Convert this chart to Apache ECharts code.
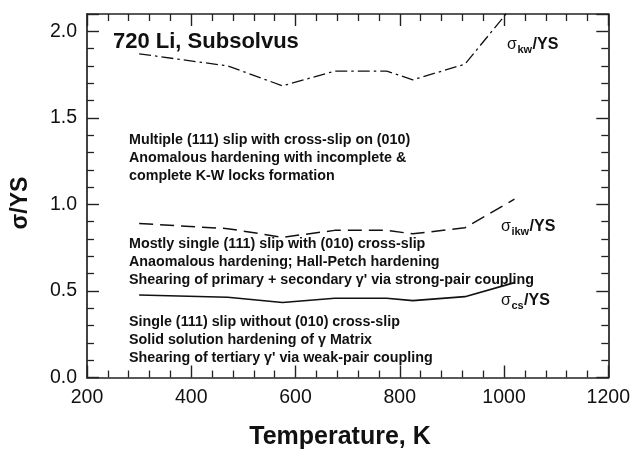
<!DOCTYPE html>
<html><head><meta charset="utf-8">
<script src="https://cdn.jsdelivr.net/npm/echarts@6/dist/echarts.min.js"></script>
<style>html,body{margin:0;padding:0;background:#fff}#chart{width:633px;height:452px}</style>
</head><body><div id="chart"></div>
<script>
// Normalised strength ratios of 720 Li (subsolvus) versus temperature
const temperatures = [300, 470, 575, 675, 775, 825, 925, 1020];
const sigmaKW  = [1.87, 1.80, 1.685, 1.77, 1.77, 1.72, 1.81, 2.16];
const sigmaIKW = [0.89, 0.86, 0.81, 0.85, 0.85, 0.83, 0.865, 1.03];
const sigmaCS  = [0.477, 0.464, 0.433, 0.458, 0.458, 0.444, 0.467, 0.548];
const xTickLabels = [200, 400, 600, 800, 1000, 1200];
const yTickLabels = [0.0, 0.5, 1.0, 1.5, 2.0];

const blockKW = [
  'Multiple (111) slip with cross-slip on (010)',
  'Anomalous hardening with incomplete &',
  'complete K-W locks formation'
];
const blockIKW = [
  'Mostly single (111) slip with (010) cross-slip',
  'Anaomalous hardening; Hall-Petch hardening',
  "Shearing of primary + secondary \u03b3' via strong-pair coupling"
];
const blockCS = [
  'Single (111) slip without (010) cross-slip',
  'Solid solution hardening of \u03b3 Matrix',
  "Shearing of tertiary \u03b3' via weak-pair coupling"
];

const FONT = '"Liberation Sans", Arial, sans-serif';
const INK = '#111';
const AXIS = '#222';

const chart = echarts.init(document.getElementById('chart'), null, {renderer: 'canvas'});

const pairs = arr => temperatures.map((t, i) => [t, arr[i]]);

function frameAxis(extra) {
  return Object.assign({
    axisLine: {show: true, onZero: false, lineStyle: {color: AXIS, width: 1.7}},
    axisTick: {show: true, inside: true, length: 12, lineStyle: {color: AXIS, width: 1.4}},
    minorTick: {show: true, splitNumber: 5, length: 7, lineStyle: {color: AXIS, width: 1.3}},
    splitLine: {show: false},
    minorSplitLine: {show: false}
  }, extra);
}

const measure = (() => {
  const ctx = document.createElement('canvas').getContext('2d');
  return (text, font) => { ctx.font = font; return ctx.measureText(text).width; };
})();

// σ_sub/YS label built from three text pieces
function sigmaLabel(x, y, sub) {
  const f1 = '16px ' + FONT;
  const f2 = 'bold 11px ' + FONT;
  const f3 = 'bold 16px ' + FONT;
  const w1 = measure('\u03c3', f1);
  const w2 = measure(sub, f2);
  return [
    {type: 'text', x: x, y: y, style: {text: '\u03c3', font: f1, fill: INK, verticalAlign: 'middle'}},
    {type: 'text', x: x + w1 + 0.5, y: y + 5, style: {text: sub, font: f2, fill: INK, verticalAlign: 'middle'}},
    {type: 'text', x: x + w1 + w2 + 1, y: y, style: {text: '/YS', font: f3, fill: INK, verticalAlign: 'middle'}}
  ];
}

function block(lines, x, y0, step) {
  return lines.map((t, i) => ({
    type: 'text', x: x, y: y0 + i * step,
    style: {text: t, font: 'bold 14.3px ' + FONT, fill: INK, verticalAlign: 'middle'}
  }));
}

const graphics = [
  {type: 'text', x: 113, y: 42, style: {text: '720 Li, Subsolvus', font: 'bold 22px ' + FONT, fill: INK, verticalAlign: 'middle'}},
  ...block(blockKW, 129, 140, 18),
  ...block(blockIKW, 129, 244, 18),
  ...block(blockCS, 129, 322, 18),
  ...sigmaLabel(507, 45, 'kw'),
  ...sigmaLabel(501, 227, 'ikw'),
  ...sigmaLabel(501, 301, 'cs'),
  {type: 'text', x: 340, y: 437, style: {text: 'Temperature, K', font: 'bold 25px ' + FONT, fill: INK, align: 'center', verticalAlign: 'middle'}},
  {type: 'text', x: 21, y: 203, rotation: Math.PI / 2, style: {text: '\u03c3/YS', font: 'bold 23px ' + FONT, fill: INK, align: 'center', verticalAlign: 'middle'}}
];

chart.setOption({
  animation: false,
  backgroundColor: '#fff',
  grid: {left: 87, right: 24, top: 14, bottom: 74.5, containLabel: false},
  xAxis: [
    frameAxis({
      type: 'value', min: 200, max: 1200, interval: 200, position: 'bottom',
      axisLabel: {show: true, margin: 10, fontFamily: FONT, fontSize: 19.5, color: INK,
        formatter: v => xTickLabels.includes(v) ? String(v) : ''}
    }),
    frameAxis({
      type: 'value', min: 200, max: 1200, interval: 200, position: 'top', axisLabel: {show: false}
    })
  ],
  yAxis: [
    frameAxis({
      type: 'value', min: 0, max: 2.1, interval: 0.5, position: 'left',
      axisLabel: {show: true, showMaxLabel: false, margin: 10, fontFamily: FONT, fontSize: 19.5, color: INK,
        formatter: v => yTickLabels.some(t => Math.abs(t - v) < 1e-9) ? v.toFixed(1) : ''}
    }),
    frameAxis({
      type: 'value', min: 0, max: 2.1, interval: 0.5, position: 'right', axisLabel: {show: false}
    })
  ],
  series: [
    {type: 'line', name: 'kw', data: pairs(sigmaKW), symbol: 'none', clip: true,
      lineStyle: {color: INK, width: 1.3, type: [12, 4, 2.5, 4]}},
    {type: 'line', name: 'ikw', data: pairs(sigmaIKW), symbol: 'none', clip: true,
      lineStyle: {color: INK, width: 1.5, type: [14, 7]}},
    {type: 'line', name: 'cs', data: pairs(sigmaCS), symbol: 'none', clip: true,
      lineStyle: {color: INK, width: 1.6, type: 'solid'}}
  ],
  graphic: graphics
});
</script>
</body></html>
